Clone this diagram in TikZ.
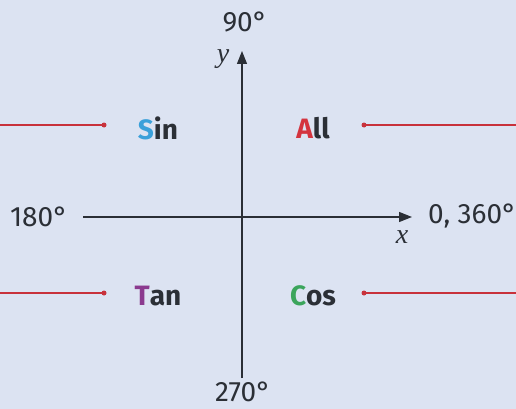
\documentclass[tikz,border=0pt]{standalone}
\usepackage{fontspec}
\setmainfont{Fira Sans}
\newfontfamily\tmsfont{Liberation Serif}
\usetikzlibrary{arrows.meta}
\definecolor{bg}{HTML}{DCE3F2}
\definecolor{redl}{HTML}{C8323C}
\definecolor{sinc}{HTML}{3AA0DA}
\definecolor{allc}{HTML}{D4343F}
\definecolor{tanc}{HTML}{8B3A8F}
\definecolor{cosc}{HTML}{3BA55C}
\definecolor{txt}{HTML}{2B2F36}
\tikzset{
  lab/.style={font=\fontsize{28}{32}\selectfont\bfseries, text=txt, inner sep=0pt},
  deg/.style={font=\fontsize{28}{32}\selectfont, text=txt, inner sep=0pt},
  axlab/.style={font=\tmsfont\itshape\fontsize{28}{32}\selectfont, text=txt, inner sep=0pt},
  axis/.style={line width=1.2pt, draw=txt},
  leader/.style={line width=1.1pt, draw=redl},
  dotc/.style={circle, fill=redl, inner sep=0pt, minimum size=5pt}
}
\begin{document}
\begin{tikzpicture}[x=1pt,y=-1pt]
\fill[bg] (0,0) rectangle (516,409);
\useasboundingbox (0,0) rectangle (516,409);
% axes
\coordinate (xl) at (83,217);
\coordinate (xr) at (412,217);
\coordinate (yb) at (242,378);
\coordinate (yt) at (242,51);
\draw[axis,-{Triangle[length=13pt,width=10pt]}] (xl) -- (xr);
\draw[axis,-{Triangle[length=13pt,width=10pt]}] (yb) -- (yt);
% axis labels
\node[deg] (d90) at (245,22) {90°};
\node[deg] (d180) at (39,217) {180°};
\node[deg, anchor=west] (d0) at (428,216) {0, 360°};
\node[deg] (d270) at (243,392) {270°};
\node[axlab] (ylab) at (223,59) {y};
\node[axlab] (xlab) at (402,237) {x};
% quadrant labels
\node[lab] (sin) at (158,128) {\textcolor{sinc}{S}in};
\node[lab] (all) at (313,128) {\textcolor{allc}{A}ll};
\node[lab] (tan) at (158,296) {\textcolor{tanc}{T}an};
\node[lab] (cos) at (313,296) {\textcolor{cosc}{C}os};
% leaders
\node[dotc] (ds) at (104,125) {};
\node[dotc] (da) at (364,125) {};
\node[dotc] (dt) at (104,293) {};
\node[dotc] (dc) at (364,293) {};
\coordinate (es) at (0,125);
\coordinate (ea) at (516,125);
\coordinate (et) at (0,293);
\coordinate (ec) at (516,293);
\draw[leader] (es) -- (ds.center);
\draw[leader] (da.center) -- (ea);
\draw[leader] (et) -- (dt.center);
\draw[leader] (dc.center) -- (ec);
\end{tikzpicture}
\end{document}
